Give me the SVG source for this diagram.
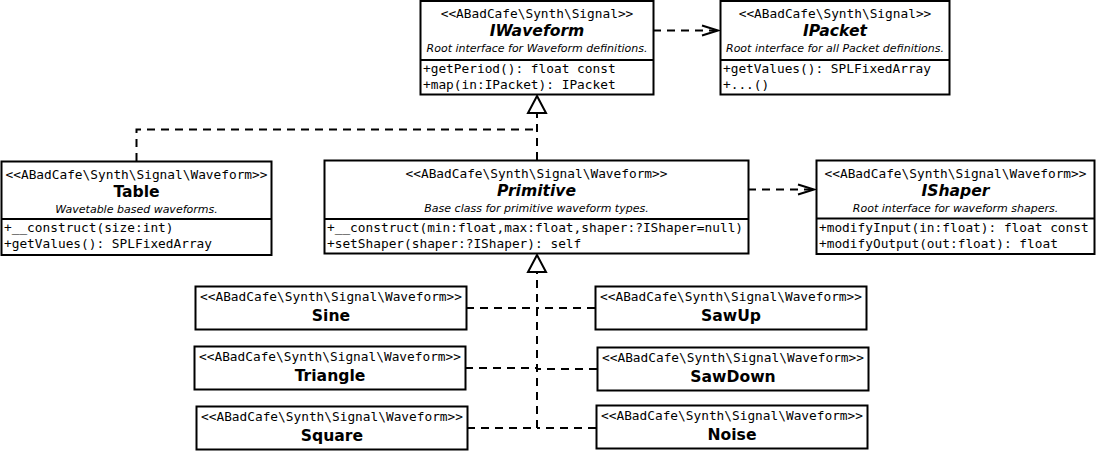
<svg xmlns="http://www.w3.org/2000/svg" width="1098" height="452" viewBox="0 0 1098 452">
<style>
.box{fill:#fff;stroke:#000;stroke-width:2}
.sep{stroke:#000;stroke-width:2}
.st{font-family:"DejaVu Sans Mono","Liberation Mono",monospace;font-size:12.8px;text-anchor:middle;fill:#000}
.mem{font-family:"DejaVu Sans Mono","Liberation Mono",monospace;font-size:12.8px;fill:#000}
.nm{font-family:"DejaVu Sans","Liberation Sans",sans-serif;font-size:15.6px;font-weight:bold;text-anchor:middle;fill:#000}
.it{font-style:italic}
.ds{font-family:"DejaVu Sans","Liberation Sans",sans-serif;font-size:11px;font-style:italic;text-anchor:middle;fill:#000}
.dash{fill:none;stroke:#000;stroke-width:2;stroke-dasharray:8,6}
.head{fill:none;stroke:#000;stroke-width:2}
.tri{fill:#fff;stroke:#000;stroke-width:2}
</style>
<g id="connectors">
<path class="dash" d="M653 30.5 H716"/>
<polyline class="head" points="702,25.5 718,30.5 702,35.5"/>
<path class="dash" d="M748 189.5 H812"/>
<polyline class="head" points="798,184.5 814,189.5 798,194.5"/>
<path class="dash" d="M537 160 V113"/>
<path class="dash" d="M136.5 161 V129.5 H537"/>
<polygon class="tri" points="537,96 528,113 546,113"/>
<path class="dash" d="M537 428 V273"/>
<path class="dash" d="M466 308 H537"/>
<path class="dash" d="M595 308 H537"/>
<path class="dash" d="M465 368 H537"/>
<path class="dash" d="M597 369 H537"/>
<path class="dash" d="M467 428 H537"/>
<path class="dash" d="M596 428 H537"/>
<polygon class="tri" points="537,255 528,272 546,272"/>
</g>
<g id="IWaveform">
<rect class="box" x="420.5" y="1" width="233" height="93.5"/>
<line class="sep" x1="420.5" y1="60" x2="653.5" y2="60"/>
<text class="st" x="537" y="18">&lt;&lt;ABadCafe\Synth\Signal&gt;&gt;</text>
<text class="nm it" x="537" y="36">IWaveform</text>
<text class="ds" x="537" y="52">Root interface for Waveform definitions.</text>
<text class="mem" x="423" y="73">+getPeriod(): float const</text>
<text class="mem" x="423" y="89">+map(in:IPacket): IPacket</text>
</g>
<g id="IPacket">
<rect class="box" x="720.5" y="1" width="229" height="93.5"/>
<line class="sep" x1="720.5" y1="60" x2="949.5" y2="60"/>
<text class="st" x="835" y="18">&lt;&lt;ABadCafe\Synth\Signal&gt;&gt;</text>
<text class="nm it" x="835" y="36">IPacket</text>
<text class="ds" x="835" y="52">Root interface for all Packet definitions.</text>
<text class="mem" x="723" y="73">+getValues(): SPLFixedArray</text>
<text class="mem" x="723" y="89">+...()</text>
</g>
<g id="Table">
<rect class="box" x="1.5" y="161.5" width="270" height="93.5"/>
<line class="sep" x1="1.5" y1="219" x2="271.5" y2="219"/>
<text class="st" x="136.5" y="178.5">&lt;&lt;ABadCafe\Synth\Signal\Waveform&gt;&gt;</text>
<text class="nm" x="136.5" y="197">Table</text>
<text class="ds" x="136.5" y="212.5">Wavetable based waveforms.</text>
<text class="mem" x="4" y="232">+__construct(size:int)</text>
<text class="mem" x="4" y="248">+getValues(): SPLFixedArray</text>
</g>
<g id="Primitive">
<rect class="box" x="324.5" y="160.5" width="424" height="93"/>
<line class="sep" x1="324.5" y1="219" x2="748.5" y2="219"/>
<text class="st" x="536.5" y="177.5">&lt;&lt;ABadCafe\Synth\Signal\Waveform&gt;&gt;</text>
<text class="nm it" x="536.5" y="196">Primitive</text>
<text class="ds" x="536.5" y="212">Base class for primitive waveform types.</text>
<text class="mem" x="327" y="232">+__construct(min:float,max:float,shaper:?IShaper=null)</text>
<text class="mem" x="327" y="248">+setShaper(shaper:?IShaper): self</text>
</g>
<g id="IShaper">
<rect class="box" x="816.5" y="160.5" width="278" height="93.5"/>
<line class="sep" x1="816.5" y1="218.5" x2="1094.5" y2="218.5"/>
<text class="st" x="955.5" y="177.5">&lt;&lt;ABadCafe\Synth\Signal\Waveform&gt;&gt;</text>
<text class="nm it" x="955.5" y="196">IShaper</text>
<text class="ds" x="955.5" y="212">Root interface for waveform shapers.</text>
<text class="mem" x="819" y="232">+modifyInput(in:float): float const</text>
<text class="mem" x="819" y="248">+modifyOutput(out:float): float</text>
</g>
<g id="Sine">
<rect class="box" x="195.5" y="286.5" width="271" height="43"/>
<text class="st" x="331" y="301">&lt;&lt;ABadCafe\Synth\Signal\Waveform&gt;&gt;</text>
<text class="nm" x="331" y="321">Sine</text>
</g>
<g id="Triangle">
<rect class="box" x="194.5" y="346.5" width="271" height="43"/>
<text class="st" x="330" y="361">&lt;&lt;ABadCafe\Synth\Signal\Waveform&gt;&gt;</text>
<text class="nm" x="330" y="381">Triangle</text>
</g>
<g id="Square">
<rect class="box" x="196.5" y="406.5" width="271" height="43"/>
<text class="st" x="332" y="421">&lt;&lt;ABadCafe\Synth\Signal\Waveform&gt;&gt;</text>
<text class="nm" x="332" y="441">Square</text>
</g>
<g id="SawUp">
<rect class="box" x="595.5" y="286.5" width="271" height="43"/>
<text class="st" x="731" y="301">&lt;&lt;ABadCafe\Synth\Signal\Waveform&gt;&gt;</text>
<text class="nm" x="731" y="321">SawUp</text>
</g>
<g id="SawDown">
<rect class="box" x="597.5" y="347.5" width="271" height="43"/>
<text class="st" x="733" y="362">&lt;&lt;ABadCafe\Synth\Signal\Waveform&gt;&gt;</text>
<text class="nm" x="733" y="382">SawDown</text>
</g>
<g id="Noise">
<rect class="box" x="596.5" y="405.5" width="271" height="43"/>
<text class="st" x="732" y="420">&lt;&lt;ABadCafe\Synth\Signal\Waveform&gt;&gt;</text>
<text class="nm" x="732" y="440">Noise</text>
</g>
</svg>
